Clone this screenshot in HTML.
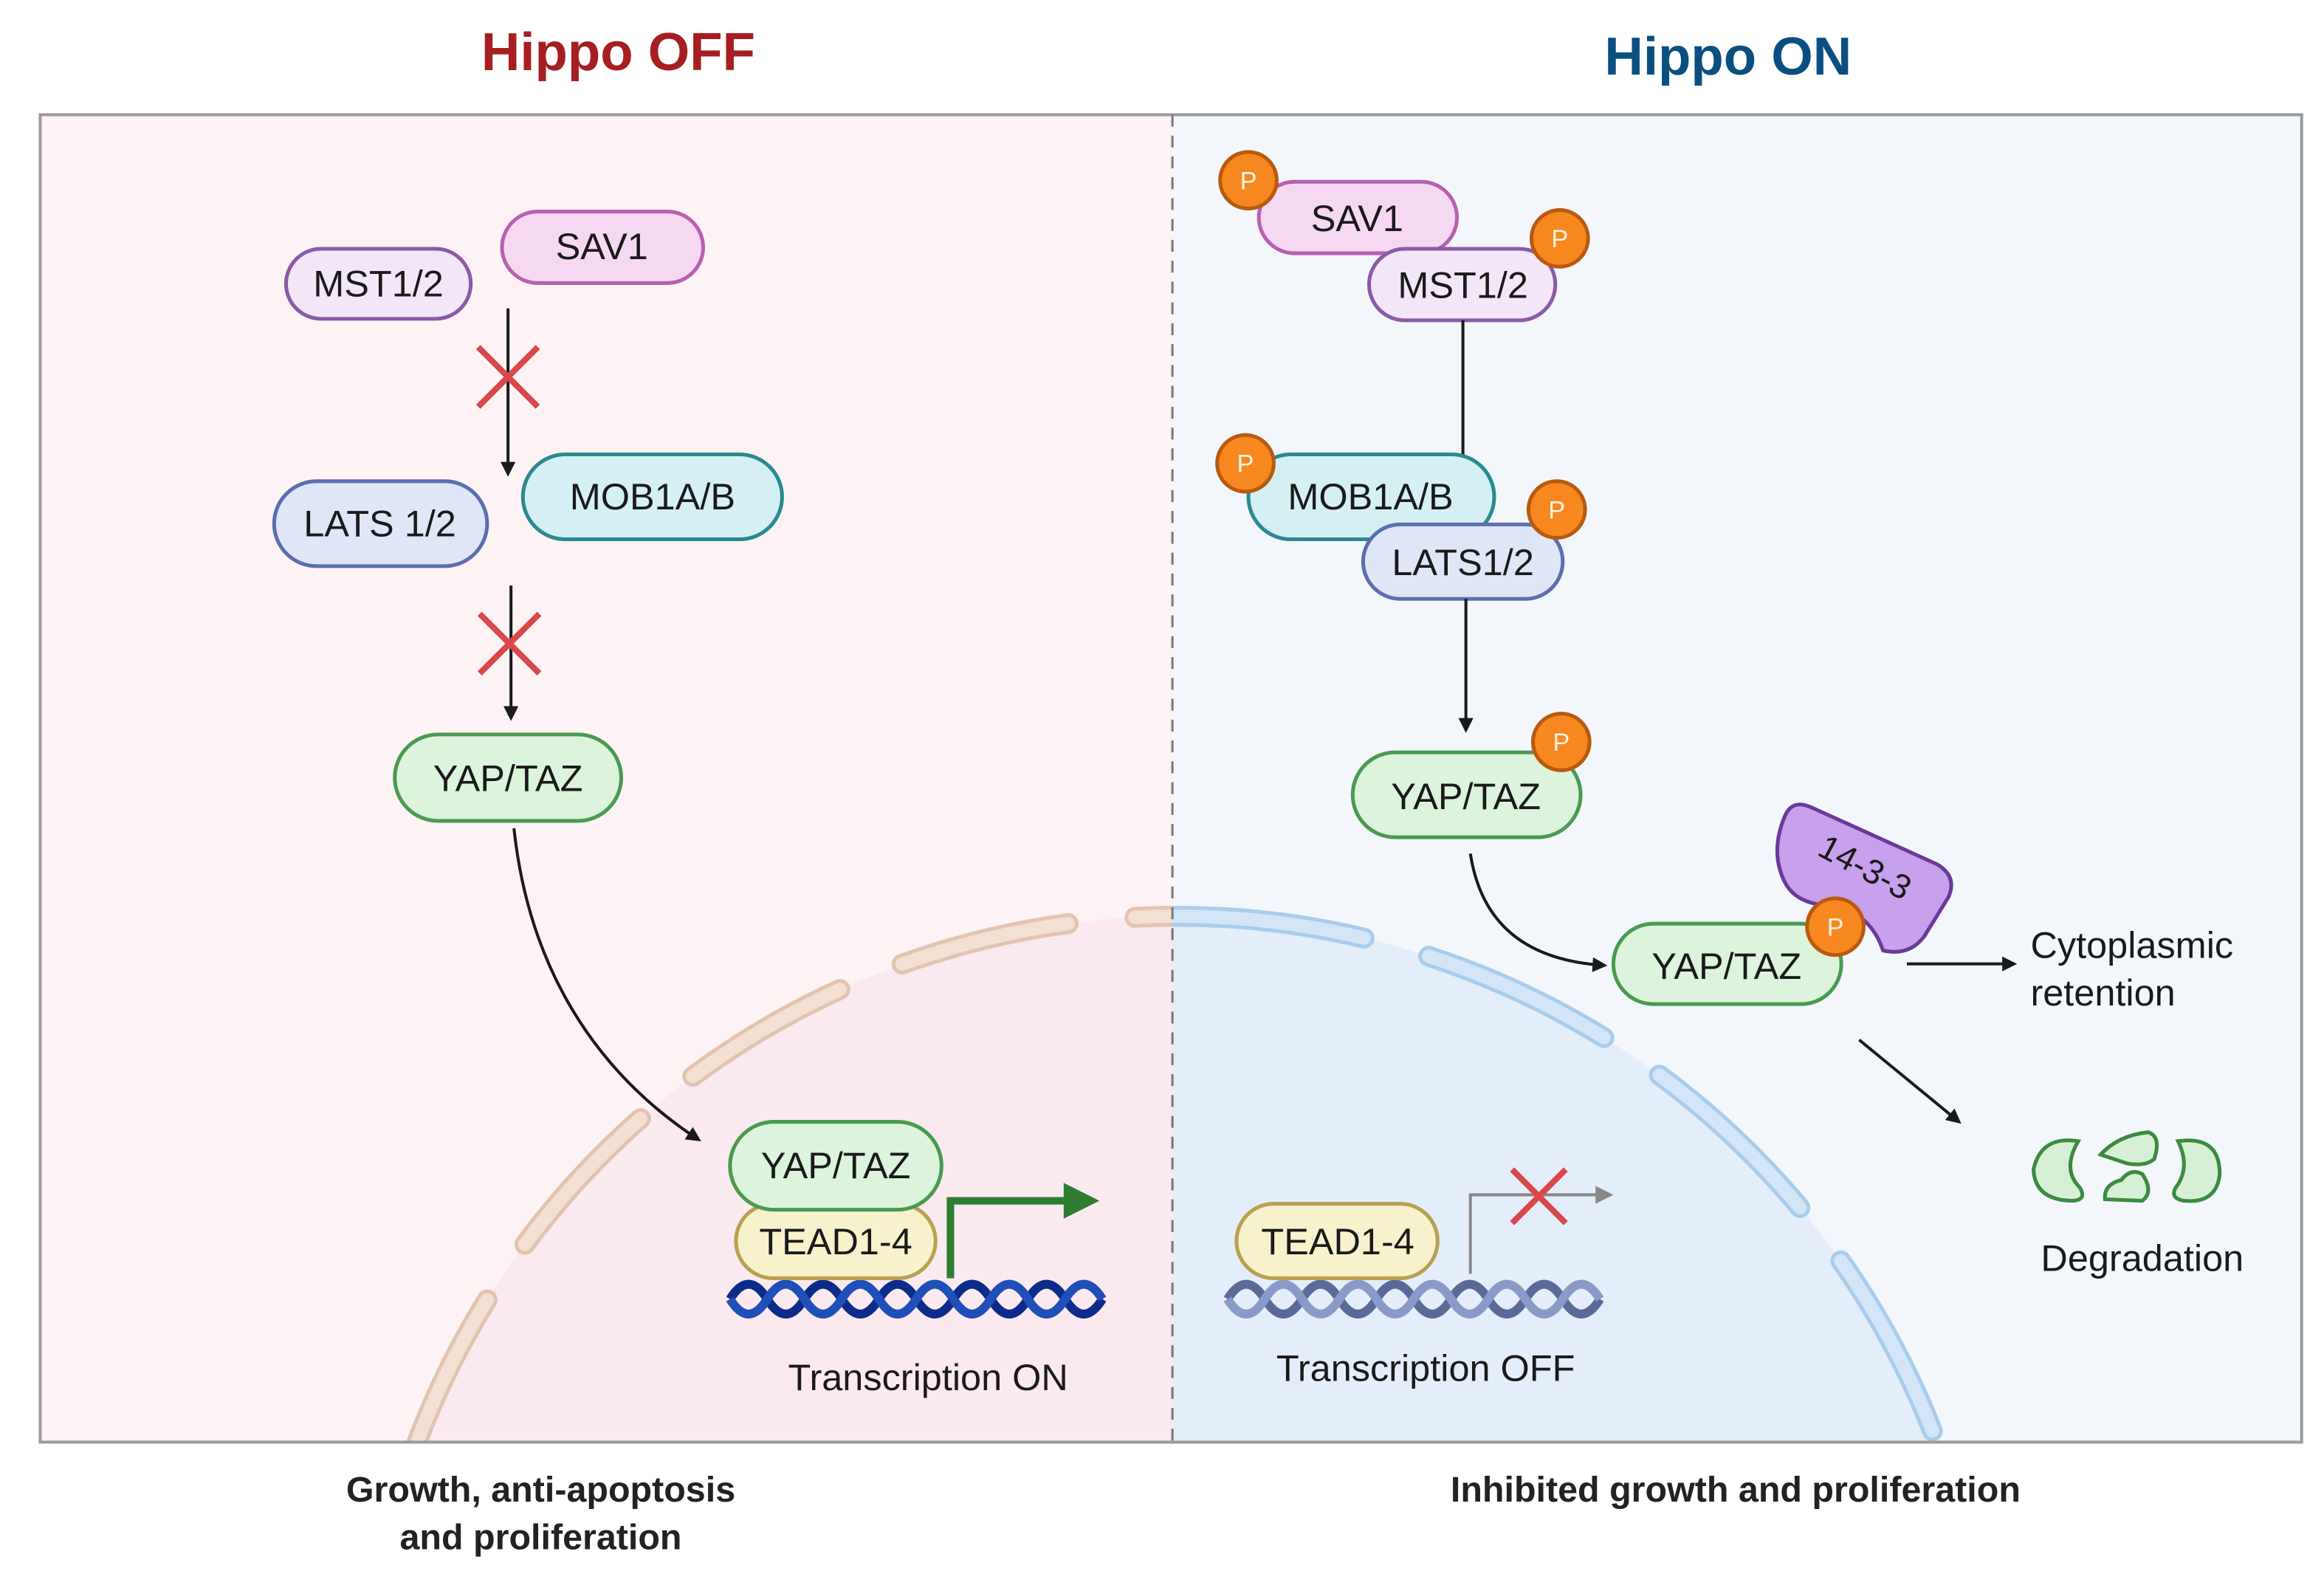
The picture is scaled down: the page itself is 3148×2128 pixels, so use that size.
<!DOCTYPE html>
<html><head><meta charset="utf-8"><style>
html,body{margin:0;padding:0;background:#fff;width:3148px;height:2128px;overflow:hidden;}
svg{display:block;}
text{font-family:"Liberation Sans",sans-serif;}
</style></head><body>
<svg width="3148" height="2128" viewBox="0 0 1560 1054.5" preserveAspectRatio="none" xmlns="http://www.w3.org/2000/svg">
<defs>
<marker id="ah" markerWidth="10" markerHeight="10" refX="8" refY="5" orient="auto" markerUnits="userSpaceOnUse"><path d="M0,0 L10,5 L0,10 Z" fill="#1a1a1a"/></marker>
<marker id="ahg" markerWidth="12" markerHeight="12" refX="9" refY="6" orient="auto" markerUnits="userSpaceOnUse"><path d="M0,0 L12,6 L0,12 Z" fill="#888"/></marker>
<clipPath id="cl"><rect x="27" y="77" width="760" height="891"/></clipPath>
<clipPath id="cr"><rect x="787" y="77" width="758" height="891"/></clipPath>
</defs>
<rect width="1560" height="1054.5" fill="#fff"/>
<text x="415" y="47" text-anchor="middle" font-size="36" font-weight="bold" fill="#a61e22">Hippo OFF</text>
<text x="1160" y="50" text-anchor="middle" font-size="36" font-weight="bold" fill="#0a4f80">Hippo ON</text>
<rect x="27" y="77" width="760" height="891" fill="#fdf3f5"/>
<rect x="787" y="77" width="758" height="891" fill="#f3f7fc"/>
<g clip-path="url(#cl)">
<circle cx="790" cy="1160" r="545" fill="#fbe9f0"/>
<circle cx="790" cy="1160" r="545" fill="none" stroke="#e2c4b0" stroke-width="14" stroke-dasharray="115 45" stroke-dashoffset="20" stroke-linecap="round"/>
<circle cx="790" cy="1160" r="545" fill="none" stroke="#f4e0d2" stroke-width="9" stroke-dasharray="115 45" stroke-dashoffset="20" stroke-linecap="round"/>
</g>
<g clip-path="url(#cr)">
<circle cx="790" cy="1160" r="545" fill="#e4eefa"/>
<circle cx="790" cy="1160" r="545" fill="none" stroke="#a9cdec" stroke-width="14" stroke-dasharray="130 45" stroke-dashoffset="60" stroke-linecap="round"/>
<circle cx="790" cy="1160" r="545" fill="none" stroke="#d3e6f8" stroke-width="9" stroke-dasharray="130 45" stroke-dashoffset="60" stroke-linecap="round"/>
</g>
<rect x="27" y="77" width="1518" height="891" fill="none" stroke="#9a9a9a" stroke-width="2"/>
<line x1="787" y1="77" x2="787" y2="968" stroke="#777" stroke-width="1.5" stroke-dasharray="8 6"/>

<g font-size="25" text-anchor="middle" fill="#1a1a1a" stroke-width="2.5">
<!-- LEFT -->
<rect x="192" y="167" width="124" height="47" rx="23.5" fill="#f3e6f8" stroke="#8a5aa8"/>
<text x="254" y="199" stroke="none">MST1/2</text>
<rect x="337" y="142" width="135" height="48" rx="24" fill="#f7d8f2" stroke="#b860b0"/>
<text x="404" y="174" stroke="none">SAV1</text>
<line x1="341" y1="207" x2="341" y2="318" stroke="#1a1a1a" stroke-width="2" marker-end="url(#ah)"/>
<path d="M321,233 L361,273 M361,233 L321,273" stroke="#d9474a" stroke-width="4"/>
<rect x="184" y="323" width="143" height="57" rx="28.5" fill="#dfe6f8" stroke="#5d6eb0"/>
<text x="255" y="360" stroke="none">LATS 1/2</text>
<rect x="351" y="305" width="174" height="57" rx="28.5" fill="#d4f0f4" stroke="#2a8a90"/>
<text x="438" y="342" stroke="none">MOB1A/B</text>
<line x1="343" y1="393" x2="343" y2="482" stroke="#1a1a1a" stroke-width="2" marker-end="url(#ah)"/>
<path d="M322,412 L362,452 M362,412 L322,452" stroke="#d9474a" stroke-width="4"/>
<rect x="265" y="493" width="152" height="58" rx="29" fill="#dcf3dc" stroke="#4a9a50"/>
<text x="341" y="531" stroke="none">YAP/TAZ</text>
<path d="M345,556 C355,650 400,720 469,765" fill="none" stroke="#1a1a1a" stroke-width="2" marker-end="url(#ah)"/>
<path d="M490,872 q12.5,-20 25,0 t25,0 t25,0 t25,0 t25,0 t25,0 t25,0 t25,0 t25,0 t25,0" fill="none" stroke="#0d2b8a" stroke-width="6"/>
<path d="M490,872 q12.5,20 25,0 t25,0 t25,0 t25,0 t25,0 t25,0 t25,0 t25,0 t25,0 t25,0" fill="none" stroke="#1f4fb8" stroke-width="6"/>
<path d="M638,858 L638,806 L718,806" fill="none" stroke="#2e7d32" stroke-width="5"/>
<path d="M714,794 L738,806 L714,818 Z" fill="#2e7d32"/>
<rect x="494" y="808" width="134" height="50" rx="25" fill="#f7f2cc" stroke="#b8a050"/>
<text x="561" y="842" stroke="none">TEAD1-4</text>
<rect x="490" y="753" width="142" height="59" rx="29.5" fill="#dcf3dc" stroke="#4a9a50"/>
<text x="561" y="791" stroke="none">YAP/TAZ</text>
<text x="623" y="933" stroke="none">Transcription ON</text>

<!-- RIGHT -->
<rect x="845" y="122" width="133" height="48" rx="24" fill="#f7d8f2" stroke="#b860b0"/>
<text x="911" y="155" stroke="none">SAV1</text>
<rect x="919" y="167" width="125" height="48" rx="24" fill="#f3e6f8" stroke="#8a5aa8"/>
<text x="982" y="200" stroke="none">MST1/2</text>
<line x1="982" y1="215" x2="982" y2="307" stroke="#1a1a1a" stroke-width="2"/>
<rect x="838" y="305" width="165" height="57" rx="28.5" fill="#d4f0f4" stroke="#2a8a90"/>
<text x="920" y="342" stroke="none">MOB1A/B</text>
<rect x="915" y="352" width="134" height="50" rx="25" fill="#dfe6f8" stroke="#5d6eb0"/>
<text x="982" y="386" stroke="none">LATS1/2</text>
<line x1="984" y1="402" x2="984" y2="490" stroke="#1a1a1a" stroke-width="2" marker-end="url(#ah)"/>
<rect x="908" y="505" width="153" height="57" rx="28.5" fill="#dcf3dc" stroke="#4a9a50"/>
<text x="984" y="543" stroke="none">YAP/TAZ</text>
<path d="M987,573 C995,625 1030,645 1077,648" fill="none" stroke="#1a1a1a" stroke-width="2" marker-end="url(#ah)"/>
<path d="M1198,548 Q1203,536 1216,542 L1300,580 Q1314,588 1308,602 L1292,628 Q1282,642 1264,638 Q1256,614 1232,608 Q1206,608 1198,592 Q1188,572 1198,548 Z" fill="#c9a0ec" stroke="#6a3a9a" stroke-width="2.5"/>
<text x="1252" y="590" stroke="none" font-size="23" transform="rotate(28 1252 582)">14-3-3</text>
<rect x="1083" y="620" width="153" height="54" rx="27" fill="#dcf3dc" stroke="#4a9a50"/>
<text x="1159" y="657" stroke="none">YAP/TAZ</text>
<line x1="1280" y1="647" x2="1352" y2="647" stroke="#1a1a1a" stroke-width="2" marker-end="url(#ah)"/>
<text x="1363" y="643" text-anchor="start" stroke="none">Cytoplasmic</text>
<text x="1363" y="675" text-anchor="start" stroke="none">retention</text>
<line x1="1248" y1="698" x2="1315" y2="753" stroke="#1a1a1a" stroke-width="2" marker-end="url(#ah)"/>
<g fill="#d6f0d6" stroke="#3c8a40" stroke-width="2.5">
<path d="M1395,766 Q1370,762 1365,785 Q1366,806 1392,806 Q1401,805 1396,797 Q1384,785 1395,766 Z"/>
<path d="M1410,775 Q1422,762 1442,760 Q1451,763 1446,778 Q1440,783 1428,781 Z"/>
<path d="M1413,805 Q1412,795 1424,792 Q1430,784 1438,788 Q1446,800 1438,806 Z"/>
<path d="M1462,766 Q1490,762 1490,788 Q1488,808 1466,806 Q1455,804 1462,795 Q1470,782 1462,766 Z"/>
</g>
<text x="1438" y="853" stroke="none">Degradation</text>
<path d="M824,872 q12.5,-20 25,0 t25,0 t25,0 t25,0 t25,0 t25,0 t25,0 t25,0 t25,0 t25,0" fill="none" stroke="#5a6a98" stroke-width="6"/>
<path d="M824,872 q12.5,20 25,0 t25,0 t25,0 t25,0 t25,0 t25,0 t25,0 t25,0 t25,0 t25,0" fill="none" stroke="#8a9ac8" stroke-width="6"/>
<path d="M987,855 L987,802 L1080,802" fill="none" stroke="#888" stroke-width="2" marker-end="url(#ahg)"/>
<path d="M1015,785 L1051,821 M1051,785 L1015,821" stroke="#d9474a" stroke-width="4"/>
<rect x="830" y="808" width="135" height="50" rx="25" fill="#f7f2cc" stroke="#b8a050"/>
<text x="898" y="842" stroke="none">TEAD1-4</text>
<text x="957" y="927" stroke="none">Transcription OFF</text>
</g>

<g fill="#f7881f" stroke="#b85a10" stroke-width="2.5">
<circle cx="838" cy="121" r="19"/><circle cx="1047" cy="160" r="19"/>
<circle cx="836" cy="311" r="19"/><circle cx="1045" cy="342" r="19"/>
<circle cx="1048" cy="498" r="19"/><circle cx="1232" cy="622" r="19"/>
</g>
<g fill="#fff3e0" font-size="17" text-anchor="middle">
<text x="838" y="127">P</text><text x="1047" y="166">P</text>
<text x="836" y="317">P</text><text x="1045" y="348">P</text>
<text x="1048" y="504">P</text><text x="1232" y="628">P</text>
</g>

<g font-size="24" font-weight="bold" text-anchor="middle" fill="#222">
<text x="363" y="1008">Growth, anti-apoptosis</text>
<text x="363" y="1040">and proliferation</text>
<text x="1165" y="1008">Inhibited growth and proliferation</text>
</g>
</svg>
</body></html>
